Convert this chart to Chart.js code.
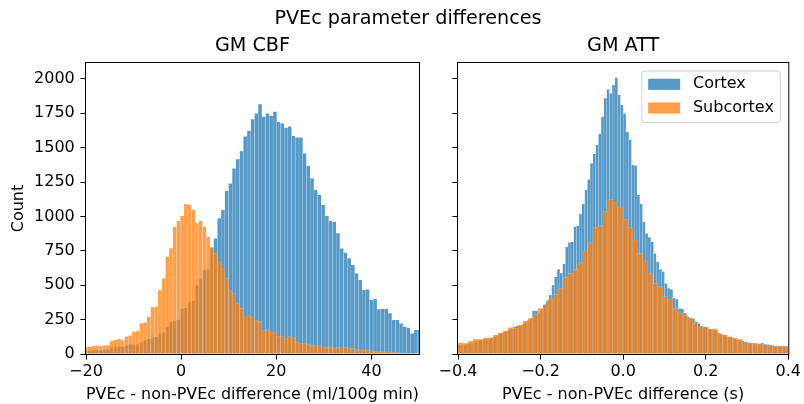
<!DOCTYPE html>
<html>
<head>
<meta charset="utf-8">
<script src="https://cdn.jsdelivr.net/npm/chart.js@4.4.1/dist/chart.umd.min.js"></script>
<style>
  html, body { margin: 0; padding: 0; background: #fff; }
  #wrap { position: relative; width: 804px; height: 404px; overflow: hidden; font-family: "DejaVu Sans"; }
  #suptitle { position: absolute; top: 6px; left: 0; width: 816px; text-align: center; font-size: 19.2px; line-height: 23px; color: #000; z-index: 2; }
  canvas { position: absolute; top: 0; }
</style>
</head>
<body>
<div id="wrap">
  <div id="suptitle">PVEc parameter differences</div>
  <canvas id="cbf" width="430" height="404" style="left:0"></canvas>
  <canvas id="att" width="374" height="404" style="left:430px"></canvas>
</div>
<script>
// histogram bins: left edge of first bin + bin width, counts per bin
const seriesNames = ["Cortex", "Subcortex"];

const cbfBinStart = -20.46;
const cbfBinWidth = 0.78;
const cbfCortex = [
  25, 25, 28, 30, 28, 32, 35, 48, 52, 55,
  53, 62, 70, 68, 72, 85, 100, 110, 115, 125,
  150, 155, 200, 235, 240, 250, 330, 335, 380, 385,
  500, 550, 610, 615, 775, 841, 987, 1047, 1188, 1241,
  1350, 1416, 1475, 1582, 1624, 1707, 1750, 1816, 1726, 1750,
  1731, 1762, 1689, 1677, 1646, 1655, 1585, 1575, 1575, 1459,
  1367, 1277, 1193, 1156, 1084, 1006, 967, 960, 878, 768,
  737, 696, 647, 586, 538, 465, 470, 393, 400, 325,
  330, 330, 296, 247, 247, 223, 199, 192, 150, 175,
  175
];
const cbfSubcortex = [
  53, 53, 58, 63, 60, 63, 65, 95, 102, 110,
  100, 126, 135, 162, 170, 225, 230, 271, 340, 345,
  465, 550, 708, 770, 926, 967, 1006, 1091, 1085, 1050,
  952, 970, 926, 853, 775, 733, 671, 625, 550, 465,
  443, 370, 332, 271, 283, 271, 247, 235, 170, 175,
  160, 160, 126, 130, 110, 126, 120, 85, 78, 80,
  72, 63, 65, 60, 50, 48, 50, 45, 48, 45,
  48, 40, 42, 35, 30, 28, 30, 25, 20, 18,
  17, 15, 15, 12, 10, 8, 6, 5, 5, 4,
  3
];

const attBinStart = -0.4;
const attCortexBinWidth = 0.00667;
const attSubcortexBinWidth = 0.0121;
const attCortex = [
  65, 68, 70, 75, 78, 85, 92, 100, 102, 105,
  110, 112, 118, 125, 135, 150, 155, 165, 172, 185,
  199, 205, 205, 215, 225, 245, 260, 315, 315, 295,
  330, 361, 388, 430, 500, 560, 616, 587, 655, 780,
  812, 815, 926, 933, 1018, 1091, 1193, 1270, 1387, 1455,
  1520, 1600, 1726, 1860, 1924, 1895, 1956, 2010, 1884, 1811,
  1750, 1617, 1556, 1375, 1370, 1156, 1091, 960, 877, 850,
  817, 732, 671, 616, 600, 514, 478, 470, 405, 398,
  332, 327, 296, 271, 265, 259, 235, 223, 204, 199,
  195, 185, 180, 170, 155, 145, 138, 126, 126, 121,
  107, 102, 98, 95, 90, 85, 82, 80, 78, 75,
  80, 72, 70, 68, 62, 60, 58, 60, 55, 55
];
const attSubcortex = [
  82, 78, 95, 107, 107, 119, 119, 138, 155, 170,
  194, 187, 211, 240, 260, 288, 332, 356, 402, 434,
  475, 557, 586, 615, 664, 749, 810, 919, 933, 1035,
  1125, 1105, 1071, 980, 919, 829, 732, 678, 587, 514,
  490, 417, 398, 332, 300, 283, 259, 223, 199, 199,
  180, 185, 150, 140, 126, 119, 107, 82, 78, 75,
  73, 65, 63, 53, 56, 56
];

const cbfTicks = [-20, 0, 20, 40];
const attTicks = [-0.4, -0.2, 0, 0.2, 0.4];
const countTicks = [0, 250, 500, 750, 1000, 1250, 1500, 1750, 2000];

const FONT = "DejaVu Sans";
Chart.defaults.font.family = FONT;
Chart.defaults.font.size = 16;
Chart.defaults.color = "#000";

const blue = "rgba(31, 119, 180, 0.75)";
const orange = "rgba(255, 127, 14, 0.75)";
const plotWidth = 333; // width of each axes box in px

function binsToPoints(values, start, width) {
  return values.map((v, i) => ({ x: start + width * (i + 0.5), y: v }));
}

function withMinus(v, digits) {
  const s = digits === undefined ? String(Math.abs(v)) : Math.abs(v).toFixed(digits);
  return v < 0 ? "\u2212" + s : s;
}

// black box around the axes, like matplotlib spines
const framePlugin = {
  id: "frame",
  afterDraw(chart) {
    const { ctx, chartArea: a } = chart;
    ctx.save();
    ctx.strokeStyle = "#000";
    ctx.lineWidth = 1;
    ctx.strokeRect(a.left - 0.5, a.top - 0.5, a.right - a.left + 1, a.bottom - a.top + 1);
    ctx.restore();
  },
};

// legend drawn inside the axes (upper right)
const legendPlugin = {
  id: "insideLegend",
  afterDraw(chart) {
    const { ctx, chartArea: a } = chart;
    const fs = 16;
    const sets = chart.data.datasets;
    ctx.save();
    ctx.font = `${fs}px "${FONT}"`;
    const textW = Math.max(...sets.map((d) => ctx.measureText(d.label).width));
    const pad = 0.4 * fs, handle = 2 * fs, gap = 0.8 * fs, row = 23.7;
    const w = pad + handle + gap + textW + pad;
    const h = 51.6;
    const x = a.right - 0.5 * fs - w;
    const y = a.top + 0.5 * fs;
    const r = 3;
    ctx.beginPath();
    ctx.moveTo(x + r, y);
    ctx.lineTo(x + w - r, y);
    ctx.arcTo(x + w, y, x + w, y + r, r);
    ctx.lineTo(x + w, y + h - r);
    ctx.arcTo(x + w, y + h, x + w - r, y + h, r);
    ctx.lineTo(x + r, y + h);
    ctx.arcTo(x, y + h, x, y + h - r, r);
    ctx.lineTo(x, y + r);
    ctx.arcTo(x, y, x + r, y, r);
    ctx.closePath();
    ctx.fillStyle = "rgba(255,255,255,0.8)";
    ctx.fill();
    ctx.strokeStyle = "#cccccc";
    ctx.lineWidth = 1;
    ctx.stroke();
    sets.forEach((d, i) => {
      const cy = y + 13.3 + i * row;
      ctx.fillStyle = d.backgroundColor;
      ctx.fillRect(x + pad, cy - 5.6, handle, 11.2);
      ctx.fillStyle = "#000";
      ctx.textBaseline = "middle";
      ctx.textAlign = "left";
      ctx.fillText(d.label, x + pad + handle + gap, cy);
    });
    ctx.restore();
  },
};

function makePanel(id, cfg) {
  const xRange = cfg.xMax - cfg.xMin;
  const datasets = cfg.series.map((s, i) => ({
    label: seriesNames[i],
    data: binsToPoints(s.values, cfg.binStart, s.binWidth),
    backgroundColor: i === 0 ? blue : orange,
    borderColor: "rgba(255,255,255,0.3)",
    borderWidth: 0.4,
    barThickness: (s.binWidth / xRange) * plotWidth,
    grouped: false,
    order: i === 0 ? 1 : 0, // Subcortex drawn over Cortex
  }));

  const tickMarks = {
    display: true,
    drawOnChartArea: false,
    drawTicks: true,
    tickLength: 5.6,
    color: "#000",
    offset: false,
  };

  return new Chart(document.getElementById(id), {
    type: "bar",
    data: { datasets },
    plugins: cfg.legend ? [framePlugin, legendPlugin] : [framePlugin],
    options: {
      responsive: false,
      animation: false,
      layout: { padding: { top: 34.46, left: 0, right: cfg.padRight, bottom: 0 } },
      plugins: {
        legend: { display: false },
        tooltip: { enabled: false },
        title: {
          display: true,
          text: cfg.title,
          fullSize: false,
          color: "#000",
          font: { size: 19.2, weight: "normal", lineHeight: 1.2 },
          padding: { top: 0, bottom: 5.5 },
        },
      },
      scales: {
        x: {
          type: "linear",
          min: cfg.xMin,
          max: cfg.xMax,
          offset: false,
          grid: tickMarks,
          border: { display: false },
          ticks: { padding: 3, maxRotation: 0, autoSkip: false, callback: cfg.xFormat },
          afterBuildTicks: (scale) => {
            scale.ticks = cfg.xTicks.map((v) => ({ value: v }));
          },
          afterFit: (scale) => {
            scale.height = 50;
          },
          title: { display: true, text: cfg.xLabel, padding: { top: 0, bottom: 0 } },
        },
        y: {
          min: 0,
          max: 2116,
          grid: tickMarks,
          border: { display: false },
          ticks: { display: cfg.showY, padding: 5.6, callback: (v) => String(v) },
          afterBuildTicks: (scale) => {
            scale.ticks = countTicks.map((v) => ({ value: v }));
          },
          afterFit: (scale) => {
            scale.width = cfg.yWidth;
          },
          title: { display: cfg.showY, text: "Count", padding: { top: 9, bottom: 0 } },
        },
      },
    },
  });
}

makePanel("cbf", {
  title: "GM CBF",
  xLabel: "PVEc - non-PVEc difference (ml/100g min)",
  xMin: -20,
  xMax: 50,
  xTicks: cbfTicks,
  xFormat: (v) => withMinus(v),
  binStart: cbfBinStart,
  series: [
    { values: cbfCortex, binWidth: cbfBinWidth },
    { values: cbfSubcortex, binWidth: cbfBinWidth },
  ],
  showY: true,
  yWidth: 86,
  padRight: 11,
  legend: false,
});

makePanel("att", {
  title: "GM ATT",
  xLabel: "PVEc - non-PVEc difference (s)",
  xMin: -0.4,
  xMax: 0.4,
  xTicks: attTicks,
  xFormat: (v) => withMinus(v, 1),
  binStart: attBinStart,
  series: [
    { values: attCortex, binWidth: attCortexBinWidth },
    { values: attSubcortex, binWidth: attSubcortexBinWidth },
  ],
  showY: false,
  yWidth: 28,
  padRight: 13,
  legend: true,
});
</script>
</body>
</html>
